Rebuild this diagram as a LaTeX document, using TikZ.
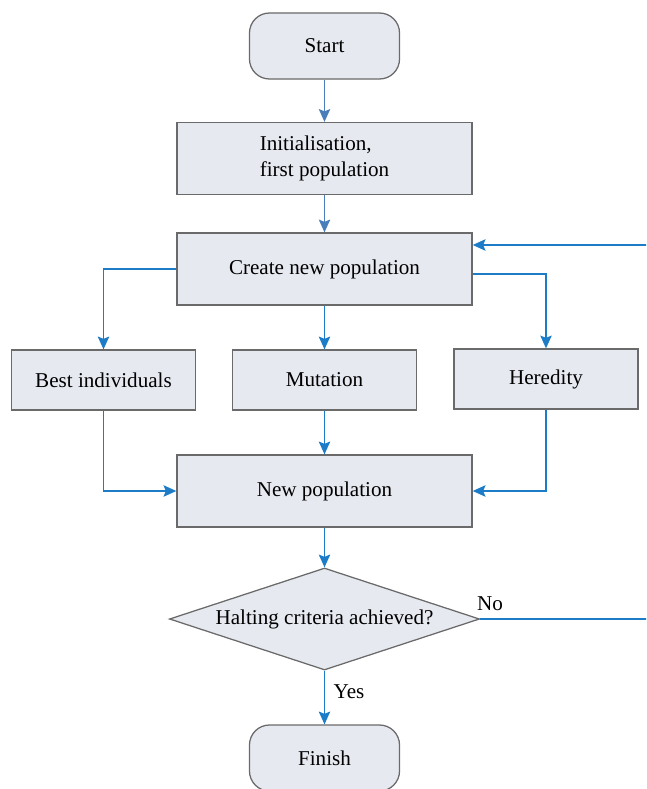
\documentclass[tikz,border=0pt]{standalone}
\usepackage{fontspec}
\setmainfont{Liberation Serif}
\usetikzlibrary{arrows.meta,shapes.geometric}
\definecolor{boxfill}{HTML}{E6E9F0}
\definecolor{boxline}{HTML}{6A6A6A}
\definecolor{flowblue}{HTML}{1C7CC7}
\definecolor{steelblue}{HTML}{4A7EBB}
\newcommand{\flowFont}[0]{\fontsize{15}{19}\selectfont}

\begin{document}
\begin{tikzpicture}[x=0.025cm, y=-0.025cm]
  \tikzset{
    every node/.style={font=\flowFont},
    terminal/.style={draw=boxline, fill=boxfill, line width=0.9pt, rounded corners=0.5cm,
      minimum width=3.75cm, minimum height=1.65cm, align=center},
    process/.style={draw=boxline, fill=boxfill, line width=0.9pt,
      minimum width=7.375cm, minimum height=1.8cm, align=center},
    smallproc/.style={draw=boxline, fill=boxfill, line width=0.9pt,
      minimum width=4.6cm, minimum height=1.5cm, align=center},
    decision/.style={draw=boxline, fill=boxfill, line width=0.9pt, diamond, aspect=3.04,
      minimum width=7.75cm, minimum height=2.55cm, inner sep=0pt, align=center},
    flow/.style={draw=flowblue, line width=1.4pt, -{Stealth[length=9pt, width=8pt, inset=1.5pt]}},
    steelflow/.style={flow, draw=steelblue}
  }
  \clip (0,0) rectangle (646,789);
  \node[terminal] (start) at (324.5,46) {Start};
  \node[process, align=left] (init) at (324.5,158.5) {Initialisation,\\first population};
  \node[process] (create) at (324.5,269) {Create new population};
  \node[smallproc] (best) at (103.5,380) {Best individuals};
  \node[smallproc] (mutation) at (324.5,380) {Mutation};
  \node[smallproc] (heredity) at (546,379) {Heredity};
  \node[process] (newpop) at (324.5,491) {New population};
  \node[decision] (halt) at (324.5,619) {Halting criteria achieved?};
  \node[terminal] (finish) at (324.5,758) {Finish};
  \node (no) at (490,604) {No};
  \node (yes) at (349,692) {Yes};
  \coordinate (loop) at (680,619);

  \draw[steelflow] (start) -- (init);
  \draw[steelflow] (init) -- (create);
  \draw[flow] (create.west) -| (best.north);
  \draw[flow] (create) -- (mutation);
  \draw[flow] ([yshift=-0.125cm]create.east) -| (heredity.north);
  \draw[flow] (best.south) |- (newpop.west);
  \draw[flow] (mutation) -- (newpop);
  \draw[flow] (heredity.south) |- (newpop.east);
  \draw[flow] (newpop) -- (halt);
  \draw[flow] (halt) -- (finish);
  \draw[flow] (halt.east) -- (loop) |- ([yshift=0.6cm]create.east);
\end{tikzpicture}
\end{document}
